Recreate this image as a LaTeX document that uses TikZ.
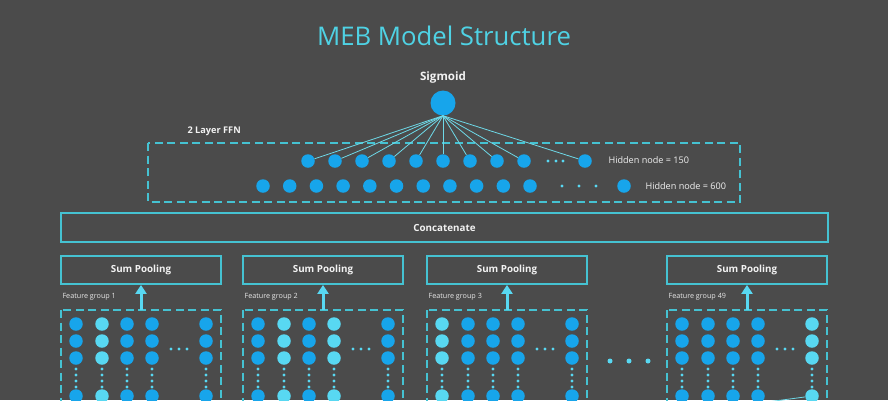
\documentclass[tikz,border=0pt]{standalone}
\usepackage{fontspec}
\setmainfont{Open Sans}
\usepackage{tikz}
\usetikzlibrary{arrows.meta}

\definecolor{bggray}{HTML}{4B4B4B}
\definecolor{titlecyan}{HTML}{4FD2E4}
\definecolor{edgecyan}{HTML}{45C2D2}
\definecolor{linkcyan}{HTML}{6ED9E8}
\definecolor{dotB}{HTML}{17A5EB}
\definecolor{dotL}{HTML}{58D8F2}
\definecolor{txtwhite}{HTML}{F2F2F2}

\begin{document}
\begin{tikzpicture}[x=1pt,y=-1pt,
    unit/.style={circle,fill=dotB,inner sep=0pt,minimum size=13.5pt},
    solidbox/.style={draw=edgecyan,line width=1.8pt,inner sep=0pt},
    dashbox/.style={draw=edgecyan,line width=1.6pt,dash pattern=on 8pt off 4.5pt},
    boxtext/.style={text=txtwhite,font=\bfseries\fontsize{9.8}{12}\selectfont},
    smalltext/.style={text=txtwhite,font=\fontsize{9.1}{11}\selectfont,anchor=west},
    grouptext/.style={text=txtwhite!90!gray,font=\fontsize{7.2}{9}\selectfont,anchor=west},
    link/.style={draw=linkcyan,line width=0.8pt},
    uparrow/.style={draw=dotL,line width=3pt,-{Triangle[width=11pt,length=9pt]}}]
  \fill[bggray] (0,0) rectangle (888,400);
  \clip (0,0) rectangle (888,400);

  \node[text=titlecyan,font=\fontsize{25.7}{30}\selectfont] (title) at (444,36) {MEB Model Structure};

  \node[boxtext,font=\bfseries\fontsize{11.6}{14}\selectfont] (sigtext) at (443,77) {Sigmoid};
  \node[unit,minimum size=25pt] (sig) at (443,103) {};

  \draw[dashbox] (148,143) rectangle (740,202);
  \node[boxtext,font=\bfseries\fontsize{9.2}{11}\selectfont,anchor=west] (ffn) at (184,131) {2 Layer FFN};

  \foreach \i in {1,...,9}
    \node[unit] (h\i) at (281+27*\i,161) {};
  \node[unit] (h10) at (585,161) {};
  \foreach \i in {1,...,10}
    \draw[link] (sig.south) -- (h\i);
  \foreach \x in {548,556,563}
    \fill[dotL] (\x,161) circle (1.7pt);
  \node[smalltext] (hid150) at (605,160) {Hidden node = 150};

  \foreach \i in {1,...,11}
    \node[unit] (b\i) at (236.3+26.7*\i,186) {};
  \node[unit] (b12) at (624,186) {};
  \foreach \x in {562,579,596}
    \fill[dotL] (\x,186) circle (1.7pt);
  \node[smalltext] (hid600) at (642,186) {Hidden node = 600};

  \node[solidbox,boxtext,minimum width=767pt,minimum height=29pt] (concat) at (444.5,227.5) {Concatenate};

  \foreach \g/\gx/\gname/\cols in {1/61/1/{B,L,B,B,B},2/243/2/{B,L,B,L,B},3/427/3/{L,B,B,B,B},4/667/49/{B,B,B,B,L}} {
    \node[solidbox,boxtext,minimum width=160pt,minimum height=28pt] (pool\g) at (\gx+80,270) {Sum Pooling};
    \node[grouptext] (glabel\g) at (\gx-2,297) {Feature group \gname};
    \draw[dashbox] (\gx,310) rectangle (\gx+160,430);
    \coordinate (ftop\g) at (\gx+80,310);
    \draw[uparrow] (ftop\g) -- (pool\g.south);
    \foreach \c [count=\j] in \cols {
      \pgfmathsetmacro\cx{\gx+{15,41,66,91,145}[\j-1]}
      \foreach \cy [count=\r] in {324,341,358,396}
        \node[unit,fill=dot\c] (g\g c\j r\r) at (\cx,\cy) {};
      \foreach \cy in {369,375,381,387}
        \fill[dotL] (\cx,\cy) circle (1.6pt);
    }
    \foreach \dx in {110,118,126}
      \fill[dotL] (\gx+\dx,349) circle (1.7pt);
  }

  \foreach \x in {610,629,648}
    \fill[dotL] (\x,361) circle (2.5pt);

  \coordinate (offframe) at (700,411);
  \draw[link] (g4c5r4) -- (offframe);
\end{tikzpicture}
\end{document}
